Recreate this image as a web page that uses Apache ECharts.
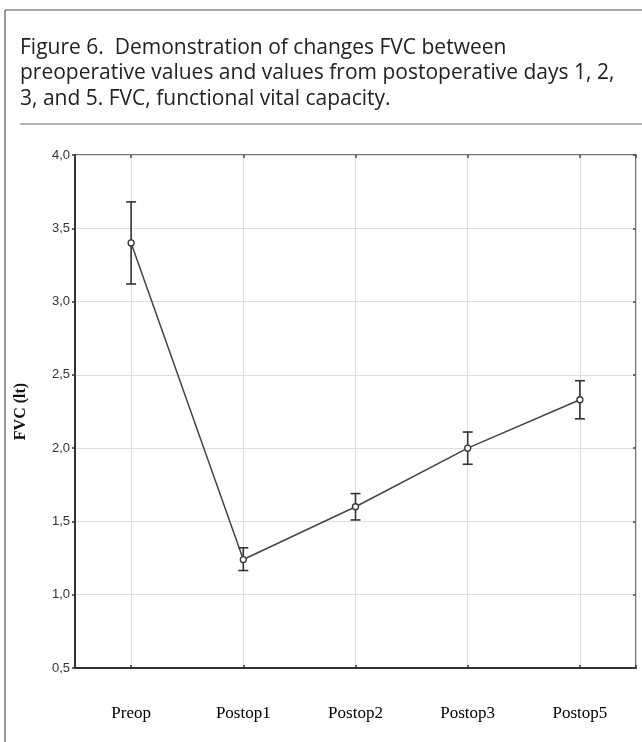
<!DOCTYPE html>
<html>
<head>
<meta charset="utf-8">
<script src="https://cdn.jsdelivr.net/npm/echarts@6/dist/echarts.min.js"></script>
<style>
  html, body { margin: 0; padding: 0; background: #ffffff; }
  #chart { width: 642px; height: 742px; }
</style>
</head>
<body>
<div id="chart"></div>
<script>
// ---- data ----
const categories = ['Preop', 'Postop1', 'Postop2', 'Postop3', 'Postop5'];
const meanFVC   = [3.40, 1.24, 1.60, 2.00, 2.33];
const upperFVC  = [3.68, 1.32, 1.69, 2.11, 2.46];
const lowerFVC  = [3.12, 1.165, 1.51, 1.89, 2.20];
const yTicks    = ['0,5', '1,0', '1,5', '2,0', '2,5', '3,0', '3,5', '4,0'];
const captionLines = [
  'Figure 6.  Demonstration of changes FVC between',
  'preoperative values and values from postoperative days 1, 2,',
  '3, and 5. FVC, functional vital capacity.'
];

const lineData = meanFVC.map((v, i) => [i, v]);
const errData = meanFVC.map((v, i) => [i, lowerFVC[i], upperFVC[i]]);

const chart = echarts.init(document.getElementById('chart'), null, { renderer: 'canvas' });

const option = {
  backgroundColor: '#ffffff',
  animation: false,
  graphic: [
    { type: 'line', shape: { x1: 5, y1: 10, x2: 642, y2: 10 }, style: { stroke: '#555', lineWidth: 1.2 }, silent: true },
    { type: 'line', shape: { x1: 5, y1: 10, x2: 5, y2: 742 }, style: { stroke: '#555', lineWidth: 1.2 }, silent: true },
    { type: 'line', shape: { x1: 20, y1: 124, x2: 642, y2: 124 }, style: { stroke: '#666', lineWidth: 1 }, silent: true },
    {
      type: 'text', left: 20, top: 35, silent: true,
      style: {
        text: captionLines.join('\n'),
        font: '21px "Open Sans", "Noto Sans", sans-serif',
        lineHeight: 25.5,
        fill: '#222'
      }
    }
  ],
  grid: {
    left: 75, right: 6, top: 155, bottom: 74,
    show: true, borderColor: '#444', borderWidth: 1.5, backgroundColor: 'transparent'
  },
  xAxis: [
    {
      type: 'value', min: -0.5, max: 4.5, position: 'bottom',
      axisLine: { show: true, onZero: false, lineStyle: { color: '#333', width: 2 } },
      axisTick: { show: true, inside: true, length: 3, lineStyle: { color: '#333', width: 1.5 } },
      splitLine: { show: true, lineStyle: { color: '#dedede', width: 1 } },
      axisLabel: {
        margin: 37,
        fontFamily: '"Liberation Serif", "DejaVu Serif", serif',
        fontSize: 17, color: '#000',
        formatter: function (v) {
          return Number.isInteger(v) && categories[v] !== undefined ? categories[v] : '';
        }
      }
    },
    {
      type: 'value', min: -0.5, max: 4.5, position: 'top',
      axisLine: { show: false, onZero: false },
      axisTick: { show: true, inside: true, length: 3, lineStyle: { color: '#444', width: 1.5 } },
      splitLine: { show: false },
      axisLabel: { show: false }
    }
  ],
  yAxis: [
    {
      type: 'value', min: 0.5, max: 4.0, interval: 0.5, position: 'left',
      name: 'FVC (lt)', nameLocation: 'middle', nameGap: 46,
      nameTextStyle: { fontFamily: '"Liberation Serif", "DejaVu Serif", serif', fontWeight: 'bold', fontSize: 16, color: '#111' },
      axisLine: { show: true, onZero: false, lineStyle: { color: '#333', width: 2 } },
      axisTick: { show: true, inside: false, length: 3, lineStyle: { color: '#333', width: 1.5 } },
      splitLine: { show: true, lineStyle: { color: '#dedede', width: 1 } },
      axisLabel: {
        margin: 5,
        fontFamily: '"Liberation Sans", Arial, sans-serif',
        fontSize: 13, color: '#333',
        formatter: function (v) {
          const idx = Math.round((v - 0.5) / 0.5);
          return yTicks[idx] !== undefined ? yTicks[idx] : '';
        }
      }
    },
    {
      type: 'value', min: 0.5, max: 4.0, interval: 0.5, position: 'right',
      axisLine: { show: false, onZero: false },
      axisTick: { show: true, inside: true, length: 3, lineStyle: { color: '#444', width: 1.5 } },
      splitLine: { show: false },
      axisLabel: { show: false }
    }
  ],
  series: [
    {
      type: 'custom',
      xAxisIndex: 0, yAxisIndex: 0,
      z: 2,
      data: errData,
      renderItem: function (params, api) {
        const x = api.value(0);
        const lo = api.coord([x, api.value(1)]);
        const hi = api.coord([x, api.value(2)]);
        const hw = 5;
        const st = { stroke: '#333', lineWidth: 1.6 };
        return {
          type: 'group',
          children: [
            { type: 'line', shape: { x1: lo[0], y1: lo[1], x2: hi[0], y2: hi[1] }, style: st },
            { type: 'line', shape: { x1: hi[0] - hw, y1: hi[1], x2: hi[0] + hw, y2: hi[1] }, style: st },
            { type: 'line', shape: { x1: lo[0] - hw, y1: lo[1], x2: lo[0] + hw, y2: lo[1] }, style: st }
          ]
        };
      }
    },
    {
      type: 'line',
      xAxisIndex: 0, yAxisIndex: 0,
      z: 3,
      data: lineData,
      symbol: 'circle', symbolSize: 6,
      itemStyle: { color: '#ffffff', borderColor: '#333', borderWidth: 1.3 },
      lineStyle: { color: '#444', width: 1.5 }
    }
  ]
};

chart.setOption(option);
</script>
</body>
</html>
